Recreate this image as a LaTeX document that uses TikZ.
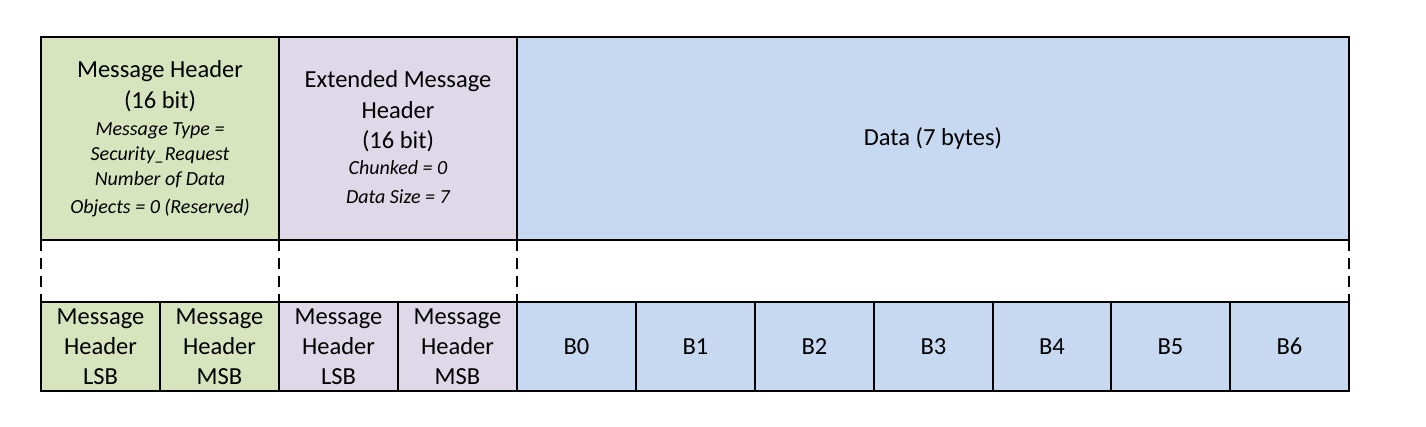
\documentclass[tikz,border=0pt]{standalone}
\usepackage{fontspec}
\setmainfont{Carlito}
\definecolor{cgreen}{HTML}{D7E4BD}
\definecolor{cpurple}{HTML}{DFD8E8}
\definecolor{cblue}{HTML}{C6D9F1}
\begin{document}
\begin{tikzpicture}[x=1pt,y=-1pt,
  cell/.style={draw=black, line width=1.5pt, inner sep=0pt, outer sep=0pt, anchor=north west,
    align=center, font=\fontsize{24.5}{30}\selectfont},
  topcell/.style={cell, minimum height=203pt},
  botcell/.style={cell, minimum width=119pt, minimum height=89pt},
  big/.style={font=\fontsize{24.5}{30}\selectfont, anchor=base, inner sep=0pt},
  small/.style={font=\fontsize{20}{25}\selectfont\itshape, anchor=base, inner sep=0pt},
  dashline/.style={line width=1.5pt, dash pattern=on 11pt off 7pt}]
\useasboundingbox (0,0) rectangle (1426,427);
\fill[white] (0,0) rectangle (1426,427);

% top row
\node[topcell, fill=cgreen, minimum width=238pt] (mh) at (41,37) {};
\node[topcell, fill=cpurple, minimum width=238pt] (emh) at (279,37) {};
\node[topcell, fill=cblue, minimum width=832pt] (data) at (517,37) {Data (7 bytes)};

\node[big] (mh1) at (160,78) {Message Header};
\node[big] (mh2) at (160,109) {(16 bit)};
\node[small] (mh3) at (160,135.5) {Message Type =};
\node[small] (mh4) at (160,160.5) {Security\_Request};
\node[small] (mh5) at (160,185.5) {Number of Data};
\node[small] (mh6) at (160,213.5) {Objects = 0 (Reserved)};

\node[big] (emh1) at (398,88) {Extended Message};
\node[big] (emh2) at (398,119) {Header};
\node[big] (emh3) at (398,149) {(16 bit)};
\node[small] (emh4) at (398,174.5) {Chunked = 0};
\node[small] (emh5) at (398,203.5) {Data Size = 7};

% bottom row
\node[botcell, fill=cgreen] (b1) at (41,302) {Message\\Header\\LSB};
\node[botcell, fill=cgreen] (b2) at (160,302) {Message\\Header\\MSB};
\node[botcell, fill=cpurple] (b3) at (279,302) {Message\\Header\\LSB};
\node[botcell, fill=cpurple] (b4) at (398,302) {Message\\Header\\MSB};
\node[botcell, fill=cblue] (c0) at (517,302) {B0};
\node[botcell, fill=cblue] (c1) at (636,302) {B1};
\node[botcell, fill=cblue] (c2) at (755,302) {B2};
\node[botcell, fill=cblue] (c3) at (874,302) {B3};
\node[botcell, fill=cblue, minimum width=118pt] (c4) at (993,302) {B4};
\node[botcell, fill=cblue, minimum width=119pt] (c5) at (1111,302) {B5};
\node[botcell, fill=cblue, minimum width=119pt] (c6) at (1230,302) {B6};

% dashed connectors
\draw[dashline] (mh.south west) -- (b1.north west);
\draw[dashline] (emh.south west) -- (b3.north west);
\draw[dashline] (data.south west) -- (c0.north west);
\draw[dashline] (data.south east) -- (c6.north east);
\end{tikzpicture}
\end{document}
